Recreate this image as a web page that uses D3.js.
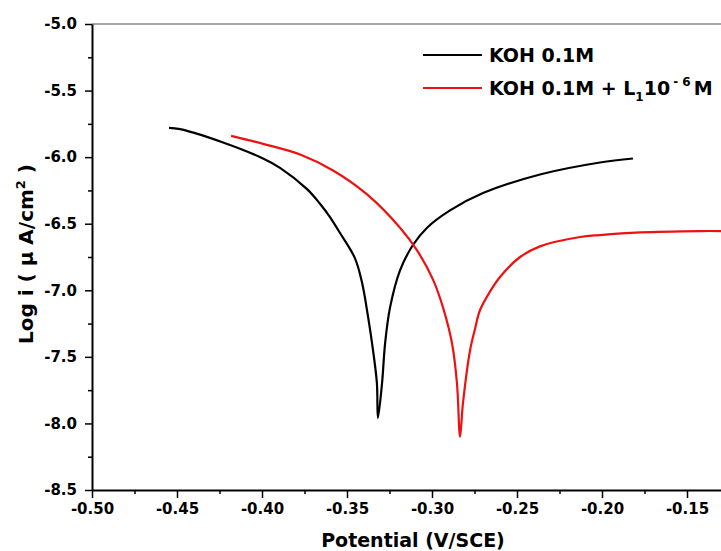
<!DOCTYPE html>
<html>
<head>
    <title>Tafel plot</title>
    <script src="https://d3js.org/d3.v7.js"></script>
    <style>
        body { margin: 0; background: #fff; }
        svg text { font-family: "DejaVu Sans", sans-serif; font-weight: bold; fill: #000; }
    </style>
</head>
<body>
    <svg id="chart"></svg>
    <script>
        // Data (potential in V/SCE, log i)
        var kohX = [-0.4547, -0.4482, -0.4229, -0.3994, -0.3894, -0.3735, -0.3659, -0.3600, -0.3541, -0.3453,
                    -0.3412, -0.3376, -0.3347, -0.3324, -0.3318, -0.3294, -0.3276, -0.3247, -0.3188, -0.3112,
                    -0.3029, -0.2894, -0.2700, -0.2365, -0.2012, -0.1818];
        var kohY = [-5.78, -5.79, -5.89, -6.01, -6.08, -6.24, -6.35, -6.45, -6.57, -6.76,
                    -6.94, -7.20, -7.45, -7.70, -7.96, -7.70, -7.40, -7.13, -6.85, -6.66,
                    -6.53, -6.40, -6.27, -6.13, -6.04, -6.01];

        var inhX = [-0.4182, -0.3994, -0.3776, -0.3582, -0.3382, -0.3188, -0.3088, -0.2994, -0.2935, -0.2882,
                    -0.2853, -0.2835, -0.2818, -0.2776, -0.2747, -0.2718, -0.2659, -0.2600, -0.2482, -0.2365,
                    -0.2129, -0.2012, -0.1776, -0.1424, -0.1300];
        var inhY = [-5.84, -5.90, -5.98, -6.10, -6.28, -6.53, -6.70, -6.92, -7.13, -7.40,
                    -7.70, -8.10, -7.85, -7.45, -7.29, -7.15, -7.01, -6.90, -6.75, -6.67,
                    -6.60, -6.585, -6.565, -6.555, -6.555];

        var xTicks = [-0.50, -0.45, -0.40, -0.35, -0.30, -0.25, -0.20, -0.15];
        var yTicks = [-8.5, -8.0, -7.5, -7.0, -6.5, -6.0, -5.5, -5.0];
        var colors = ["#000000", "#ee1111"];

        var width = 721, height = 551;
        var margin = { top: 24, left: 92, right: 0, bottom: 61 };
        var w = width - margin.left - margin.right;
        var h = height - margin.top - margin.bottom;

        var svg = d3.select("#chart")
            .attr("width", width)
            .attr("height", height);

        var x = d3.scaleLinear().domain([-0.5, -0.13]).range([0, w]);
        var y = d3.scaleLinear().domain([-8.5, -5.0]).range([h, 0]);

        var g = svg.append("g")
            .attr("transform", "translate(" + margin.left + "," + margin.top + ")");

        g.append("clipPath").attr("id", "clip")
            .append("rect").attr("width", w).attr("height", h + 2).attr("y", -1);

        // top frame (grey)
        g.append("line")
            .attr("x1", 0).attr("x2", w).attr("y1", 0).attr("y2", 0)
            .attr("stroke", "#8a8a8a").attr("stroke-width", 1.5);

        // minor ticks
        var xMinor = xTicks.map(function (d) { return d + 0.025; }).filter(function (d) { return d < -0.13; });
        var yMinor = yTicks.slice(0, -1).map(function (d) { return d + 0.25; });

        g.append("g")
            .attr("transform", "translate(0," + h + ")")
            .call(d3.axisBottom(x).tickValues(xMinor).tickSize(4).tickFormat(""))
            .call(function (a) { a.select(".domain").remove(); });
        g.append("g")
            .call(d3.axisLeft(y).tickValues(yMinor).tickSize(4).tickFormat(""))
            .call(function (a) { a.select(".domain").remove(); });

        // main axes
        g.append("g")
            .attr("transform", "translate(0," + h + ")")
            .call(d3.axisBottom(x).tickValues(xTicks).tickSize(8).tickSizeOuter(0).tickPadding(5)
                .tickFormat(function (d) { return d.toFixed(2); }));
        g.append("g")
            .call(d3.axisLeft(y).tickValues(yTicks).tickSize(7).tickSizeOuter(0).tickPadding(8)
                .tickFormat(function (d) { return d.toFixed(1); }));

        g.selectAll(".tick line").attr("stroke", "#000").attr("stroke-width", 1.5);
        g.selectAll(".domain").attr("stroke", "#000").attr("stroke-width", 2);
        g.selectAll(".tick text").style("font-size", "15px");

        // curves
        var line = d3.line()
            .x(function (d) { return x(d[0]); })
            .y(function (d) { return y(d[1]); })
            .curve(d3.curveCatmullRom.alpha(0.5));

        var series = [d3.zip(kohX, kohY), d3.zip(inhX, inhY)];
        g.append("g").attr("clip-path", "url(#clip)")
            .selectAll("path")
            .data(series)
            .enter()
            .append("path")
            .attr("d", line)
            .attr("fill", "none")
            .attr("stroke", function (d, i) { return colors[i]; })
            .attr("stroke-width", 2.2)
            .attr("stroke-linejoin", "round");

        // axis titles
        svg.append("text")
            .attr("x", 413).attr("y", 547)
            .attr("text-anchor", "middle")
            .style("font-size", "19px")
            .text("Potential (V/SCE)");

        var yt = svg.append("text")
            .attr("transform", "translate(33,254) rotate(-90)")
            .attr("text-anchor", "middle")
            .style("font-size", "20px");
        yt.append("tspan").text("Log i ( \u03bc A/cm");
        yt.append("tspan").attr("dy", -8).style("font-size", "13px").text("2");
        yt.append("tspan").attr("dy", 8).text(" )");

        // legend
        var leg = svg.append("g");
        var legY = [55, 88];
        leg.selectAll("line")
            .data(colors)
            .enter()
            .append("line")
            .attr("x1", 423).attr("x2", 482)
            .attr("y1", function (d, i) { return legY[i]; })
            .attr("y2", function (d, i) { return legY[i]; })
            .attr("stroke", function (d) { return d; })
            .attr("stroke-width", 2.2);

        leg.append("text")
            .attr("x", 489).attr("y", legY[0] + 7)
            .style("font-size", "19px")
            .text("KOH 0.1M");

        var t2 = leg.append("text")
            .attr("x", 489).attr("y", legY[1] + 7)
            .style("font-size", "19px");
        t2.append("tspan").text("KOH 0.1M + L");
        t2.append("tspan").attr("dy", 6).style("font-size", "12px").text("1");
        t2.append("tspan").attr("dy", -6).text("10");
        t2.append("tspan").attr("dy", -9).attr("dx", 3).style("font-size", "12px").text("- 6");
        t2.append("tspan").attr("dy", 9).attr("dx", 3).text("M");
    </script>
</body>
</html>
